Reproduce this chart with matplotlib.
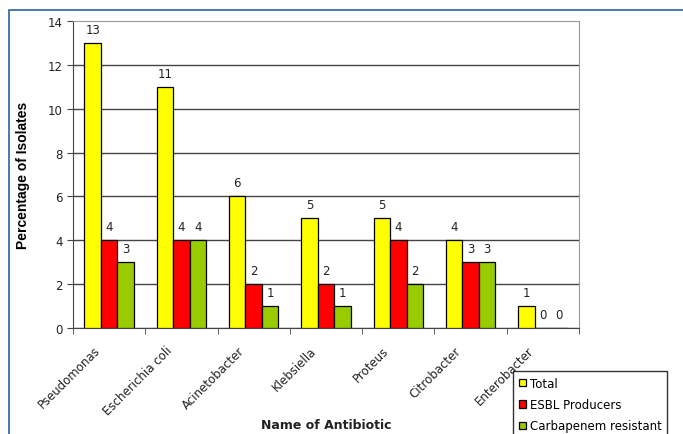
import numpy as np
import matplotlib.pyplot as plt
from matplotlib.patches import Rectangle
from matplotlib.transforms import ScaledTranslation

plt.rcParams['font.family'] = ['Liberation Sans', 'DejaVu Sans']

# Data
organisms = ['Pseudomonas', 'Escherichia coli', 'Acinetobacter', 'Klebsiella',
             'Proteus', 'Citrobacter', 'Enterobacter']
total = [13, 11, 6, 5, 5, 4, 1]
esbl = [4, 4, 2, 2, 4, 3, 0]
carbapenem = [3, 4, 1, 1, 2, 3, 0]

series = [('Total', total, '#FFFF00'),
          ('ESBL Producers', esbl, '#FF0000'),
          ('Carbapenem resistant', carbapenem, '#99CC00')]

fig = plt.figure(figsize=(6.83, 4.35), dpi=100)
ax = fig.add_axes([73/683, 1 - 329/435, (579 - 73)/683, (329 - 22)/435])

# blue outer frame of the figure
fig.patches.append(Rectangle((9/683, -0.1), 1.2, (1 - 11/435) + 0.1,
                             transform=fig.transFigure, fill=False,
                             edgecolor='#2a64a0', linewidth=1.2))

x = np.arange(len(organisms))
w = 0.228
for i, (name, vals, col) in enumerate(series):
    pos = x + (i - 1) * w
    ax.bar(pos, vals, width=w, color=col, edgecolor='black', linewidth=0.9,
           label=name, zorder=3)
    for p, v in zip(pos, vals):
        ax.annotate(str(v), (p, v), xytext=(0, 5), textcoords='offset points',
                    ha='center', va='bottom', fontsize=8.5, color='#222222',
                    family='DejaVu Sans')

ax.set_xlim(-0.5, len(organisms) - 0.5)
ax.set_ylim(0, 14)
ax.set_yticks(range(0, 15, 2))
ax.yaxis.grid(True, color='#444444', linewidth=1.0, zorder=0)
ax.yaxis.get_gridlines()[-1].set_visible(False)
ax.tick_params(axis='y', labelsize=8.5, length=4, color='#444444', labelcolor='#222222')
for lab in ax.get_yticklabels():
    lab.set_family('DejaVu Sans')

ax.set_xticks(x)
ax.set_xticklabels(organisms, rotation=45, ha='right', rotation_mode='anchor',
                   fontsize=8.5, color='#222222', family='DejaVu Sans')
ax.set_xticks(np.arange(-0.5, len(organisms)), minor=True)
ax.tick_params(axis='x', which='major', length=0, pad=4)
ax.tick_params(axis='x', which='minor', length=4, color='#444444')
shift = ScaledTranslation(-16/100, -10/100, fig.dpi_scale_trans)
for lab in ax.get_xticklabels():
    lab.set_transform(lab.get_transform() + shift)

for s in ['top', 'right']:
    ax.spines[s].set_color('#999999')
for s in ['left', 'bottom']:
    ax.spines[s].set_color('#444444')

ax.set_ylabel('Percentage of Isolates', fontsize=10, fontweight='bold', labelpad=13)
fig.text(326/683, 1 - 426/435, 'Name of Antibiotic', fontsize=9,
         fontweight='bold', ha='center', va='center', color='#222222',
         family='DejaVu Sans')

leg = fig.legend(loc='upper left', bbox_to_anchor=(513/683, 1 - 372/435),
                 frameon=True, fancybox=False, edgecolor='black',
                 handlelength=0.6, handleheight=0.6, handletextpad=0.3,
                 labelspacing=0.7, borderpad=0.5, borderaxespad=0,
                 prop={'family': 'DejaVu Sans', 'size': 8.5})
leg.get_frame().set_linewidth(1.0)

fig.savefig('out.png', dpi=100)
